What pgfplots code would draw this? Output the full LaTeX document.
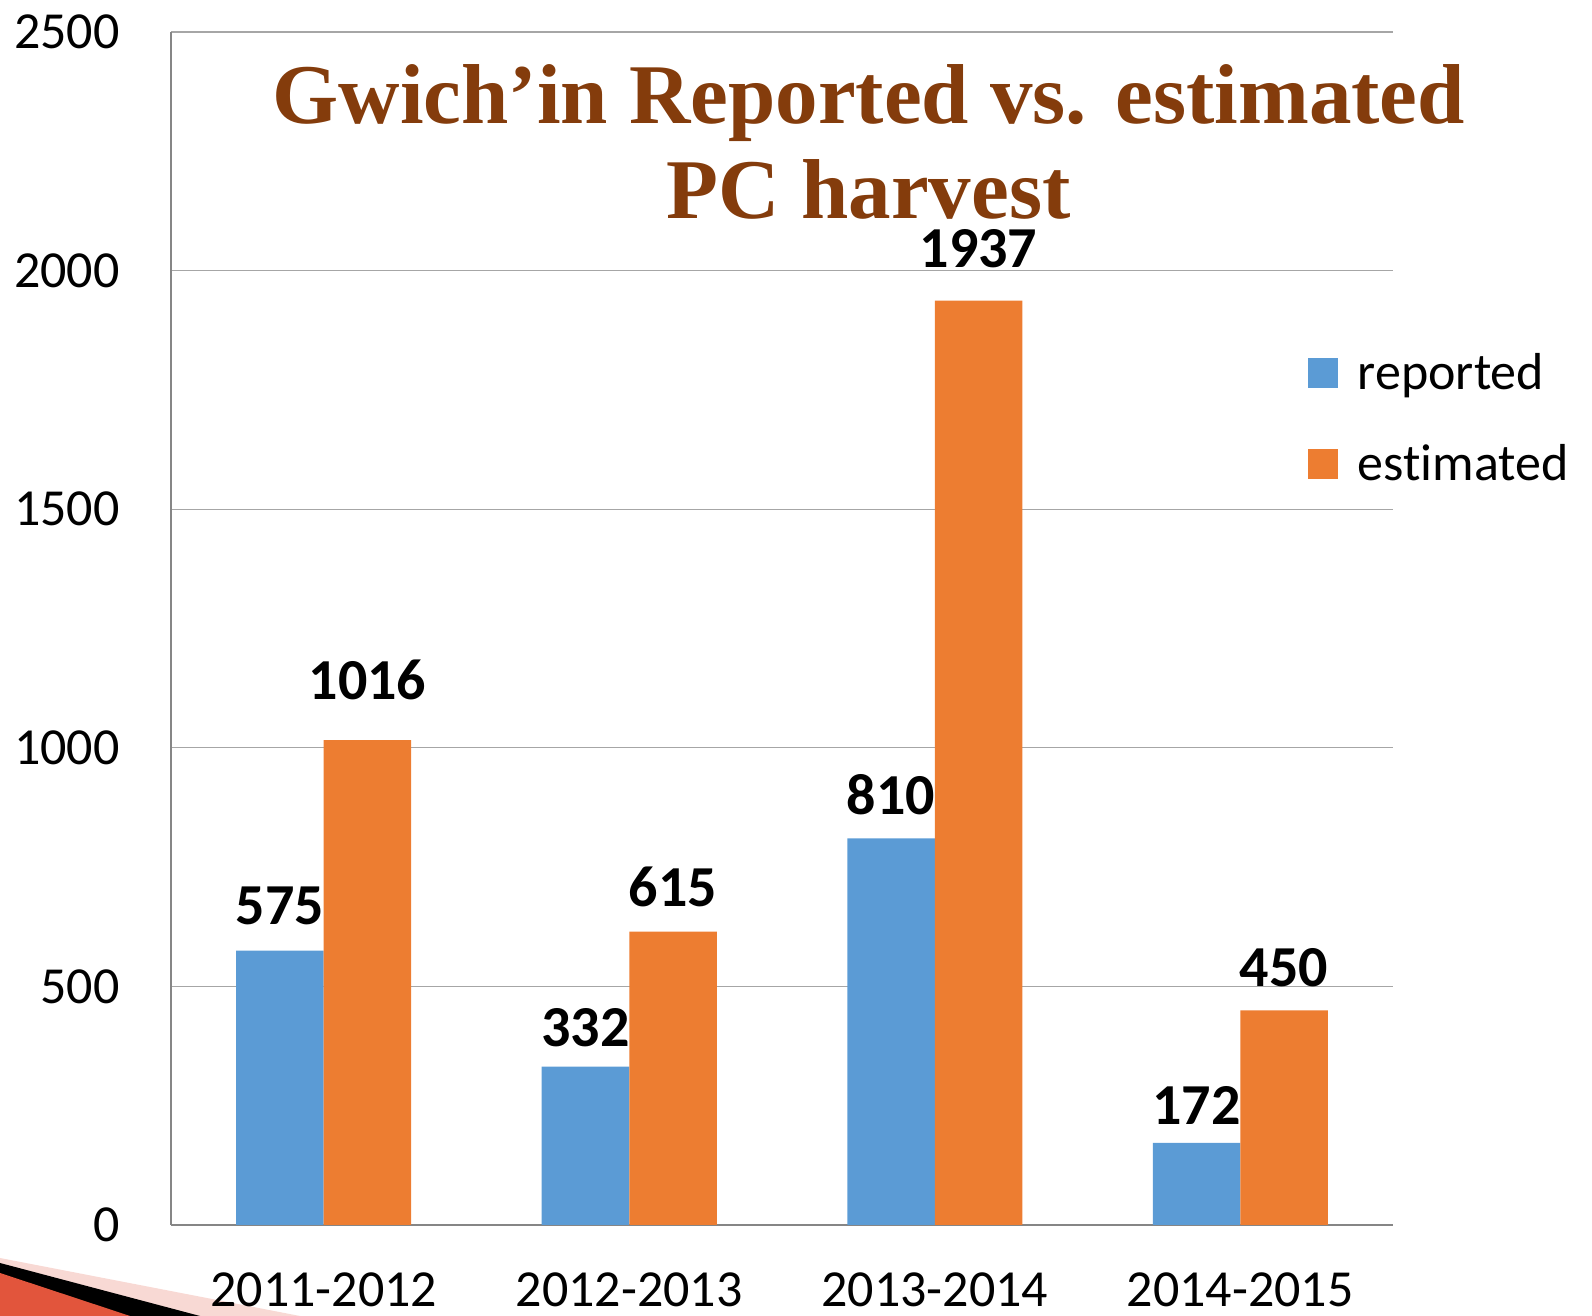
\documentclass[border=0pt]{standalone}
\usepackage{pgfplots}
\pgfplotsset{compat=1.18}
\usepackage{fontspec}
\setmainfont{Carlito}[Ligatures=CommonOff]
\newfontfamily\titlefont{Liberation Serif}
\definecolor{repblue}{HTML}{5B9BD5}
\definecolor{estorange}{HTML}{ED7D31}
\definecolor{titlebrown}{HTML}{843C0C}
\definecolor{axgray}{HTML}{868686}
\definecolor{gridgray}{HTML}{A6A6A6}
\definecolor{decored}{HTML}{E2553C}
\definecolor{decopink}{HTML}{F8D9D4}
\pgfplotsset{sqlegend/.style={legend image code/.code={\fill[##1] (0pt,-7.5pt) rectangle (15pt,7.5pt);}}}
\begin{document}
\begin{tikzpicture}
\useasboundingbox (-85.5pt,-45.5pt) rectangle (710.5pt,612.5pt);
% slide decoration (bottom-left corner)
\fill[decopink] (-85.5pt,-16.5pt) -- (64.5pt,-45.5pt) -- (-85.5pt,-45.5pt) -- cycle;
\fill[black] (-85.5pt,-19pt) -- (14.5pt,-45.5pt) -- (-85.5pt,-45.5pt) -- cycle;
\fill[decored] (-85.5pt,-24pt) -- (-20.5pt,-45.5pt) -- (-85.5pt,-45.5pt) -- cycle;
\begin{axis}[
  scale only axis, width=611pt, height=596.5pt,
  ybar=0pt, bar width=43.75pt,
  xmin=-0.5, xmax=3.5, ymin=0, ymax=2500,
  xtick={0,1,2,3},
  xticklabels={2011-2012,2012-2013,2013-2014,2014-2015},
  ytick={0,500,1000,1500,2000,2500},
  axis x line*=bottom, axis y line*=left,
  axis line style={draw=axgray, line width=0.75pt},
  ymajorgrids, major grid style={draw=gridgray, line width=0.6pt},
  major tick length=0pt,
  /pgf/number format/assume math mode=true,
  /pgf/number format/1000 sep={},
  ticklabel style={font=\fontsize{26}{26}\selectfont},
  yticklabel style={anchor=east, inner sep=0pt, xshift=-25.5pt},
  xticklabel style={anchor=base, inner sep=0pt, yshift=-41pt},
  nodes near coords,
  every node near coord/.append style={anchor=south, inner sep=0pt,
     font=\bfseries\fontsize{29}{29}\selectfont, text=black},
  legend style={draw=none, fill=none, at={(rel axis cs:0.93,0.676)}, anchor=west,
     font=\fontsize{26}{26}\selectfont, inner sep=0pt, column sep=8pt, row sep=22pt},
  legend cell align=left,
  clip=false,
]
\addplot[fill=repblue, draw=none, sqlegend,
  visualization depends on={\thisrow{off}\as\off},
  every node near coord/.append style={yshift=\off pt}]
  table {
x y off
0 575 12.5
1 332 9.5
2 810 11.5
3 172 9
};
\addplot[fill=estorange, draw=none, sqlegend,
  visualization depends on={\thisrow{off}\as\off},
  every node near coord/.append style={yshift=\off pt}]
  table {
x y off
0 1016 20
1 615 12
2 1937 16
3 450 11.5
};
\legend{reported, estimated}
\node[font=\titlefont\bfseries\fontsize{42.5}{42.5}\selectfont, text=titlebrown, anchor=base]
  at (rel axis cs:0.571,0.923) {Gwich’in Reported vs. estimated};
\node[font=\titlefont\bfseries\fontsize{42.5}{42.5}\selectfont, text=titlebrown, anchor=base]
  at (rel axis cs:0.571,0.844) {PC harvest};
\end{axis}
\end{tikzpicture}
\end{document}
